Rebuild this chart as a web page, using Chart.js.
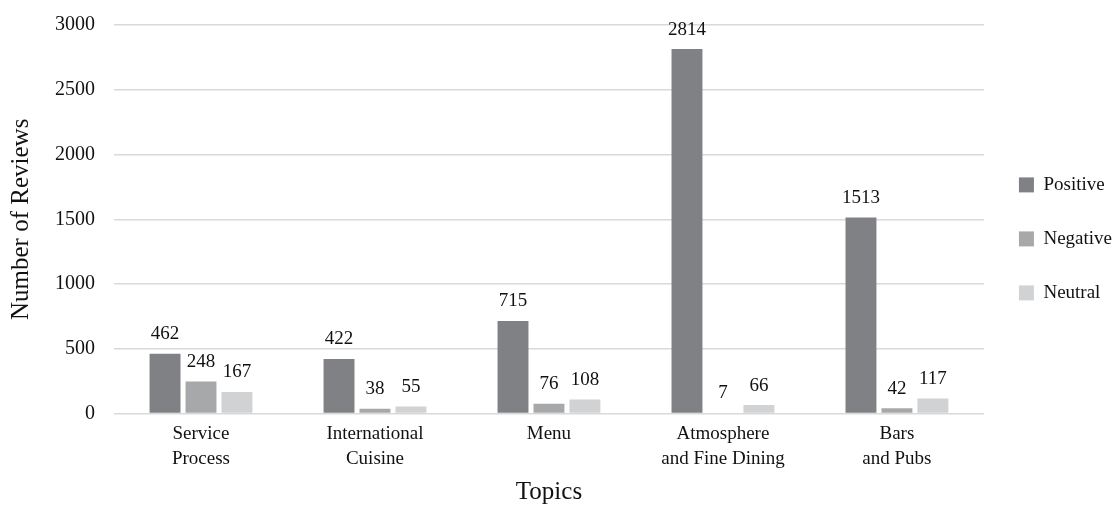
<!DOCTYPE html>
<html>
<head>
<meta charset="utf-8">
<script src="https://cdn.jsdelivr.net/npm/chart.js@4/dist/chart.umd.min.js"></script>
<style>
  html, body { margin: 0; padding: 0; background: #fff; }
  #wrap { width: 1113px; height: 511px; }
</style>
</head>
<body>
<div id="wrap"><canvas id="reviewsChart" width="1113" height="511"></canvas></div>
<script>
// topic categories (two-line labels)
const topics = [
    ['Service', 'Process'],
    ['International', 'Cuisine'],
    ['Menu'],
    ['Atmosphere', 'and Fine Dining'],
    ['Bars', 'and Pubs']
];

const positiveCounts = [462, 422, 715, 2814, 1513];
const negativeCounts = [248, 38, 76, 7, 42];
const neutralCounts = [167, 55, 108, 66, 117];

const yTicks = [0, 500, 1000, 1500, 2000, 2500, 3000];

const FONT = '"Liberation Serif", "DejaVu Serif", serif';

// value labels above each bar
const barValueLabels = {
    id: 'barValueLabels',
    afterDatasetsDraw(chart) {
        const ctx = chart.ctx;
        ctx.save();
        ctx.font = '19px ' + FONT;
        ctx.fillStyle = '#111';
        ctx.textAlign = 'center';
        ctx.textBaseline = 'bottom';
        chart.data.datasets.forEach((ds, i) => {
            const meta = chart.getDatasetMeta(i);
            meta.data.forEach((bar, j) => {
                ctx.fillText(String(ds.data[j]), bar.x, bar.y - 10);
            });
        });
        ctx.restore();
    }
};

new Chart(document.getElementById('reviewsChart'), {
    type: 'bar',
    data: {
        labels: topics,
        datasets: [
            { label: 'Positive', data: positiveCounts, backgroundColor: '#808184' },
            { label: 'Negative', data: negativeCounts, backgroundColor: '#a7a8aa' },
            { label: 'Neutral', data: neutralCounts, backgroundColor: '#d1d2d4' }
        ]
    },
    options: {
        responsive: false,
        animation: false,
        devicePixelRatio: 1,
        categoryPercentage: 0.62,
        barPercentage: 0.86,
        layout: { padding: { top: 20, right: -9, bottom: 4, left: 2 } },
        plugins: {
            tooltip: { enabled: false },
            legend: {
                position: 'right',
                align: 'start',
                title: {
                    display: true,
                    text: '',
                    padding: { top: 106, bottom: 0 }
                },
                labels: {
                    font: { family: FONT, size: 19 },
                    color: '#111',
                    boxWidth: 15,
                    boxHeight: 15,
                    padding: 35
                }
            }
        },
        scales: {
            x: {
                grid: { display: false },
                border: { display: false },
                ticks: {
                    font: { family: FONT, size: 19, lineHeight: 1.3 },
                    color: '#111',
                    maxRotation: 0,
                    padding: 0
                },
                title: {
                    display: true,
                    text: 'Topics',
                    font: { family: FONT, size: 25 },
                    color: '#111',
                    padding: { top: 6, bottom: 0 }
                }
            },
            y: {
                min: 0,
                max: 3000,
                afterBuildTicks(axis) {
                    axis.ticks = yTicks.map(v => ({ value: v }));
                },
                grid: { color: '#d9d9d9', lineWidth: 1.5, drawTicks: false },
                border: { display: false },
                ticks: {
                    font: { family: FONT, size: 20, lineHeight: 0.6 },
                    color: '#111',
                    padding: 19,
                    callback: v => String(v)
                },
                title: {
                    display: true,
                    text: 'Number of Reviews',
                    font: { family: FONT, size: 25 },
                    color: '#111',
                    padding: { bottom: 0 }
                }
            }
        }
    },
    plugins: [barValueLabels]
});
</script>
</body>
</html>
